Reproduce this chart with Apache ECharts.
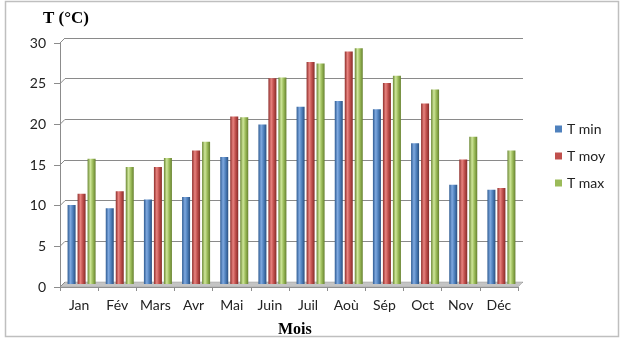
<!DOCTYPE html>
<html>
<head>
<meta charset="utf-8">
<script src="https://cdn.jsdelivr.net/npm/echarts@6/dist/echarts.min.js"></script>
<style>
  html, body { margin: 0; padding: 0; background: #fff; }
  #main { width: 624px; height: 341px; }
</style>
</head>
<body>
<div id="main"></div>
<script>
// mois et températures (°C)
var months = ["Jan", "Fév", "Mars", "Avr", "Mai", "Juin", "Juil", "Aoù", "Sép", "Oct", "Nov", "Déc"];
var tMin = [9.7, 9.3, 10.4, 10.7, 15.6, 19.6, 21.8, 22.5, 21.5, 17.3, 12.2, 11.6];
var tMoy = [11.1, 11.4, 14.4, 16.4, 20.6, 25.3, 27.3, 28.6, 24.7, 22.2, 15.3, 11.8];
var tMax = [15.4, 14.4, 15.5, 17.5, 20.5, 25.4, 27.1, 29.0, 25.6, 23.9, 18.1, 16.4];
var seriesNames = ["T min", "T moy", "T max"];

var font = "Lato, 'Open Sans', sans-serif";

// dégradé horizontal pour imiter les colonnes 3D d'Excel
function cylinder(dark, light, mid, edge) {
  return new echarts.graphic.LinearGradient(0, 0, 1, 0, [
    { offset: 0, color: dark },
    { offset: 0.35, color: light },
    { offset: 0.65, color: mid },
    { offset: 1, color: edge }
  ]);
}

var colors = {
  min: cylinder("#2e5b92", "#7fa9e0", "#4f81bd", "#2a5080"),
  moy: cylinder("#8e2e2b", "#e8837f", "#c0504d", "#862b29"),
  max: cylinder("#6a8733", "#cfe69a", "#9bbb59", "#66812f")
};

var chart = echarts.init(document.getElementById("main"));

function barSeries(name, data, color) {
  return {
    name: name,
    type: "bar",
    xAxisIndex: 2,
    yAxisIndex: 2,
    data: data,
    barWidth: 8,
    barGap: "25%",
    itemStyle: { color: color },
    z: 3
  };
}

var option = {
  animation: false,
  backgroundColor: "#fff",
  title: [
    {
      text: "T (°C)",
      left: 38,
      top: 5,
      textStyle: { fontFamily: "'Liberation Serif', serif", fontWeight: "bold", fontSize: 17, color: "#000" }
    },
    {
      text: "Mois",
      left: 273,
      top: 317,
      textStyle: { fontFamily: "'Liberation Serif', serif", fontWeight: "bold", fontSize: 16, color: "#000" }
    }
  ],
  legend: {
    orient: "vertical",
    left: 550,
    top: 117,
    itemWidth: 7,
    itemHeight: 7,
    itemGap: 13,
    icon: "rect",
    textStyle: { fontFamily: font, fontSize: 14, color: "#222" },
    data: [
      { name: seriesNames[0], itemStyle: { color: "#4f81bd" } },
      { name: seriesNames[1], itemStyle: { color: "#c0504d" } },
      { name: seriesNames[2], itemStyle: { color: "#9bbb59" } }
    ]
  },
  grid: [
    // grille avant : axes et graduations
    { left: 60, right: 106, top: 43, bottom: 54 },
    // paroi arrière : lignes de quadrillage décalées
    { left: 65, right: 101, top: 38, bottom: 59 },
    // colonnes, à mi-profondeur
    { left: 62.5, right: 103.5, top: 40, bottom: 57 }
  ],
  xAxis: [
    {
      type: "category",
      gridIndex: 0,
      data: months,
      axisLine: { lineStyle: { color: "#8c8c8c" } },
      axisTick: { show: true, length: 4, lineStyle: { color: "#8c8c8c" } },
      axisLabel: { interval: 0, fontFamily: font, fontSize: 14, color: "#222", margin: 11 }
    },
    { type: "category", gridIndex: 1, data: months, show: false },
    { type: "category", gridIndex: 2, data: months, show: false }
  ],
  yAxis: [
    {
      type: "value",
      gridIndex: 0,
      min: 0,
      max: 30,
      interval: 5,
      axisLine: { show: true, lineStyle: { color: "#8c8c8c" } },
      axisTick: { show: true, length: 6, lineStyle: { color: "#8c8c8c" } },
      splitLine: { show: false },
      axisLabel: { fontFamily: font, fontSize: 14, color: "#222", margin: 14 }
    },
    {
      type: "value",
      gridIndex: 1,
      min: 0,
      max: 30,
      interval: 5,
      axisLine: { show: false },
      axisTick: { show: false },
      axisLabel: { show: false },
      splitLine: { show: true, lineStyle: { color: "#8a8a8a", width: 1.2 } }
    },
    {
      type: "value",
      gridIndex: 2,
      min: 0,
      max: 30,
      interval: 5,
      show: false,
      splitLine: { show: false }
    }
  ],
  series: [
    barSeries(seriesNames[0], tMin, colors.min),
    barSeries(seriesNames[1], tMoy, colors.moy),
    barSeries(seriesNames[2], tMax, colors.max)
  ]
};

chart.setOption(option);

// sol gris et raccords du mur gauche, calculés depuis les axes
function decorations() {
  var f0 = chart.convertToPixel({ gridIndex: 0 }, [0, 0]);
  var b0 = chart.convertToPixel({ gridIndex: 1 }, [0, 0]);
  var rect0 = chart.getModel().getComponent("grid", 0).coordinateSystem.getRect();
  var rect1 = chart.getModel().getComponent("grid", 1).coordinateSystem.getRect();
  var els = [];
  els.push({
    type: "polygon",
    shape: {
      points: [
        [rect0.x, f0[1]],
        [rect0.x + rect0.width, f0[1]],
        [rect1.x + rect1.width, b0[1]],
        [rect1.x, b0[1]]
      ]
    },
    style: { fill: "#c4c4c4", stroke: "#9a9a9a", lineWidth: 0.5 },
    z: 1
  });
  // lignes obliques entre les graduations et la paroi arrière
  var ticks = [0, 5, 10, 15, 20, 25, 30];
  ticks.forEach(function (v) {
    var p = chart.convertToPixel({ yAxisIndex: 0 }, v);
    var q = chart.convertToPixel({ yAxisIndex: 1 }, v);
    els.push({
      type: "line",
      shape: { x1: rect0.x, y1: p, x2: rect1.x, y2: q },
      style: { stroke: "#8a8a8a", lineWidth: 1 },
      z: 1
    });
  });
  // cadre du graphique
  els.push({
    type: "rect",
    shape: { x: 5.5, y: 1.5, width: 613, height: 335 },
    style: { fill: null, stroke: "#bfbfbf", lineWidth: 1.5 },
    z: 0
  });
  chart.setOption({ graphic: els });
}
decorations();
</script>
</body>
</html>
